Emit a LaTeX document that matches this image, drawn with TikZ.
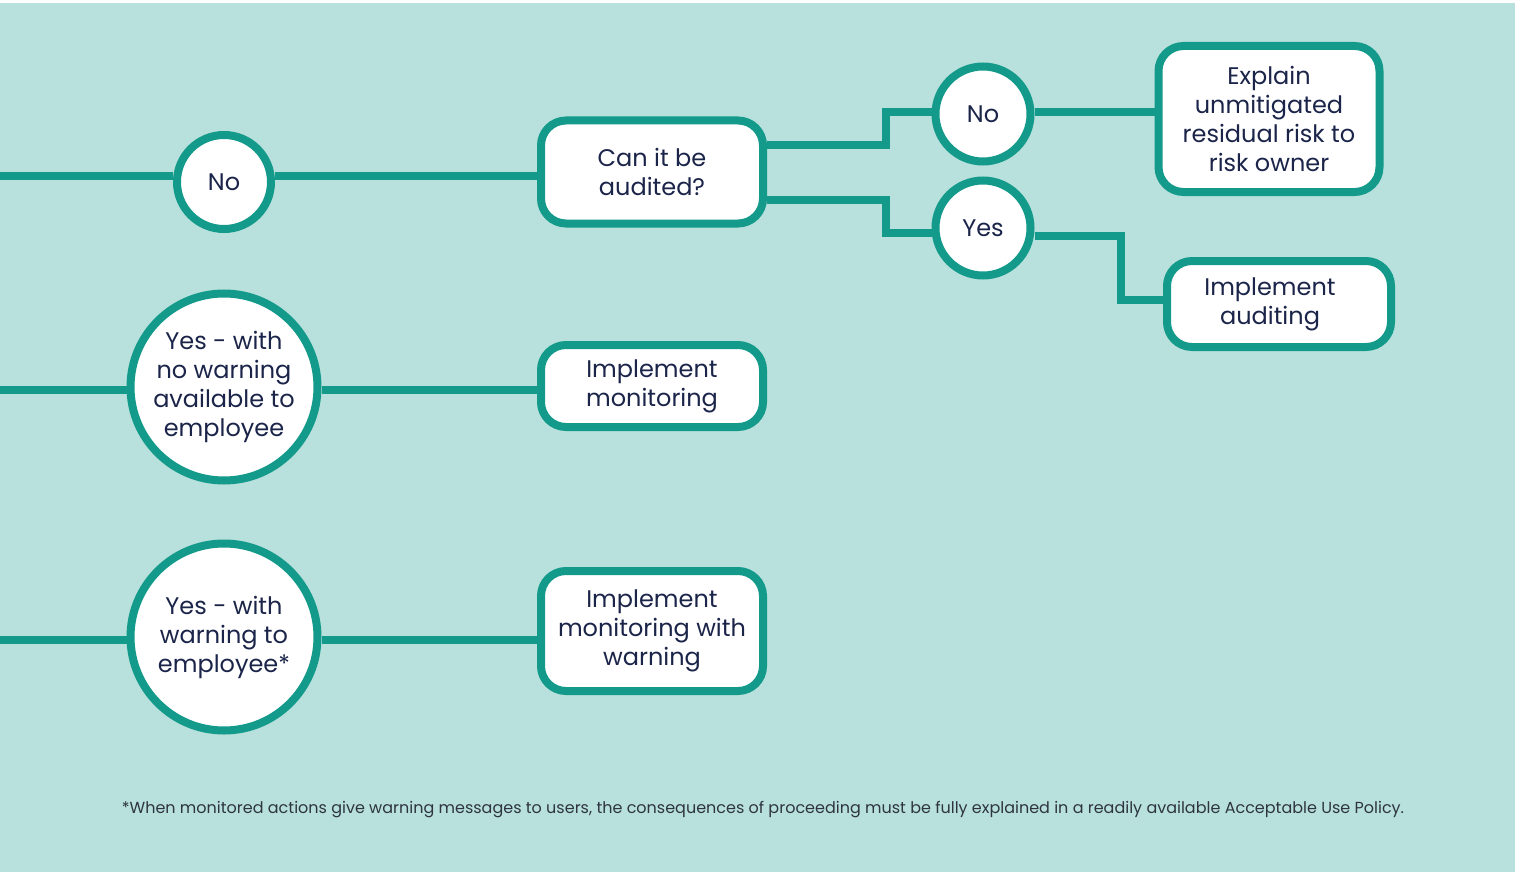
\documentclass[tikz,border=0pt]{standalone}
\usepackage{fontspec}
\setmainfont{Poppins}
\usepackage{xcolor}
\usetikzlibrary{calc}

\definecolor{tealline}{HTML}{139A8A}
\definecolor{tealback}{HTML}{B8E1DD}
\definecolor{navytext}{HTML}{1B2449}
\definecolor{notetext}{HTML}{2E3440}

\tikzset{
	answer/.style={circle, draw=tealline, fill=white, line width=8pt, inner sep=0pt,
		align=center, text=navytext, font=\fontsize{24}{29}\selectfont},
	action/.style={rectangle, rounded corners=25pt, draw=tealline, fill=white, line width=8pt,
		inner sep=0pt, align=center, text=navytext, font=\fontsize{24}{29}\selectfont},
	link/.style={draw=tealline, line width=7.5pt}
}

\begin{document}
\begin{tikzpicture}[x=1pt, y=-1pt]
					\def\W{1515};
					\def\H{872};

					\useasboundingbox (0,0) rectangle (\W,\H);
					\fill[white] (0,0) rectangle (\W,\H);
					\fill[tealback] (0,3) rectangle (\W,\H);

					% answers on the left
					\node[answer, minimum size=94pt] (no1) at (224,182) {No};
					\node[answer, minimum size=187pt] (nowarn) at (224,387) {Yes - with\\no warning\\available to\\employee};
					\node[answer, minimum size=187pt] (warn) at (224,637) {Yes - with\\warning to\\employee*};

					% middle column
					\node[action, minimum width=222pt, minimum height=103pt] (audit) at (652,172) {Can it be\\audited?};
					\node[action, minimum width=222pt, minimum height=82pt] (mon) at (652,386) {Implement\\monitoring};
					\node[action, minimum width=222pt, minimum height=120pt] (monwarn) at (652,631) {Implement\\monitoring with\\warning};

					% audit branch
					\node[answer, minimum size=95pt] (no2) at (983,114) {No};
					\node[answer, minimum size=95pt] (yes) at (983,228) {Yes};
					\node[action, minimum width=221pt, minimum height=146pt] (explain) at (1269,119) {Explain\\unmitigated\\residual risk to\\risk owner};
					\node[action, minimum width=224pt, minimum height=86pt] (doaudit) at (1279,304) {Implement\hspace*{18pt}\\auditing\hspace*{18pt}};

					\coordinate (in1) at (0,176);
					\coordinate (in2) at (0,390);
					\coordinate (in3) at (0,640);

					\begin{scope}[link]
						\draw (in1) -- (no1.west |- in1);
						\draw (no1.east |- in1) -- (audit.west |- in1);
						\draw (in2) -- (nowarn.west |- in2);
						\draw (nowarn.east |- in2) -- (mon.west |- in2);
						\draw (in3) -- (warn.west |- in3);
						\draw (warn.east |- in3) -- (monwarn.west |- in3);

						\draw (audit.east |- 0,145) -- (886,145) |- (no2.west |- 0,112);
						\draw (audit.east |- 0,200) -- (886,200) |- (yes.west |- 0,233);
						\draw (no2.east |- 0,112) -- (explain.west |- 0,112);
						\draw (yes.east |- 0,236) -- (1121,236) |- (doaudit.west |- 0,300);
					\end{scope}

					\node[text=notetext, font=\fontsize{16}{19}\selectfont] (note) at (763,810)
						{*When monitored actions give warning messages to users, the consequences of proceeding must be fully explained in a readily available Acceptable Use Policy.};
				\end{tikzpicture}
\end{document}
